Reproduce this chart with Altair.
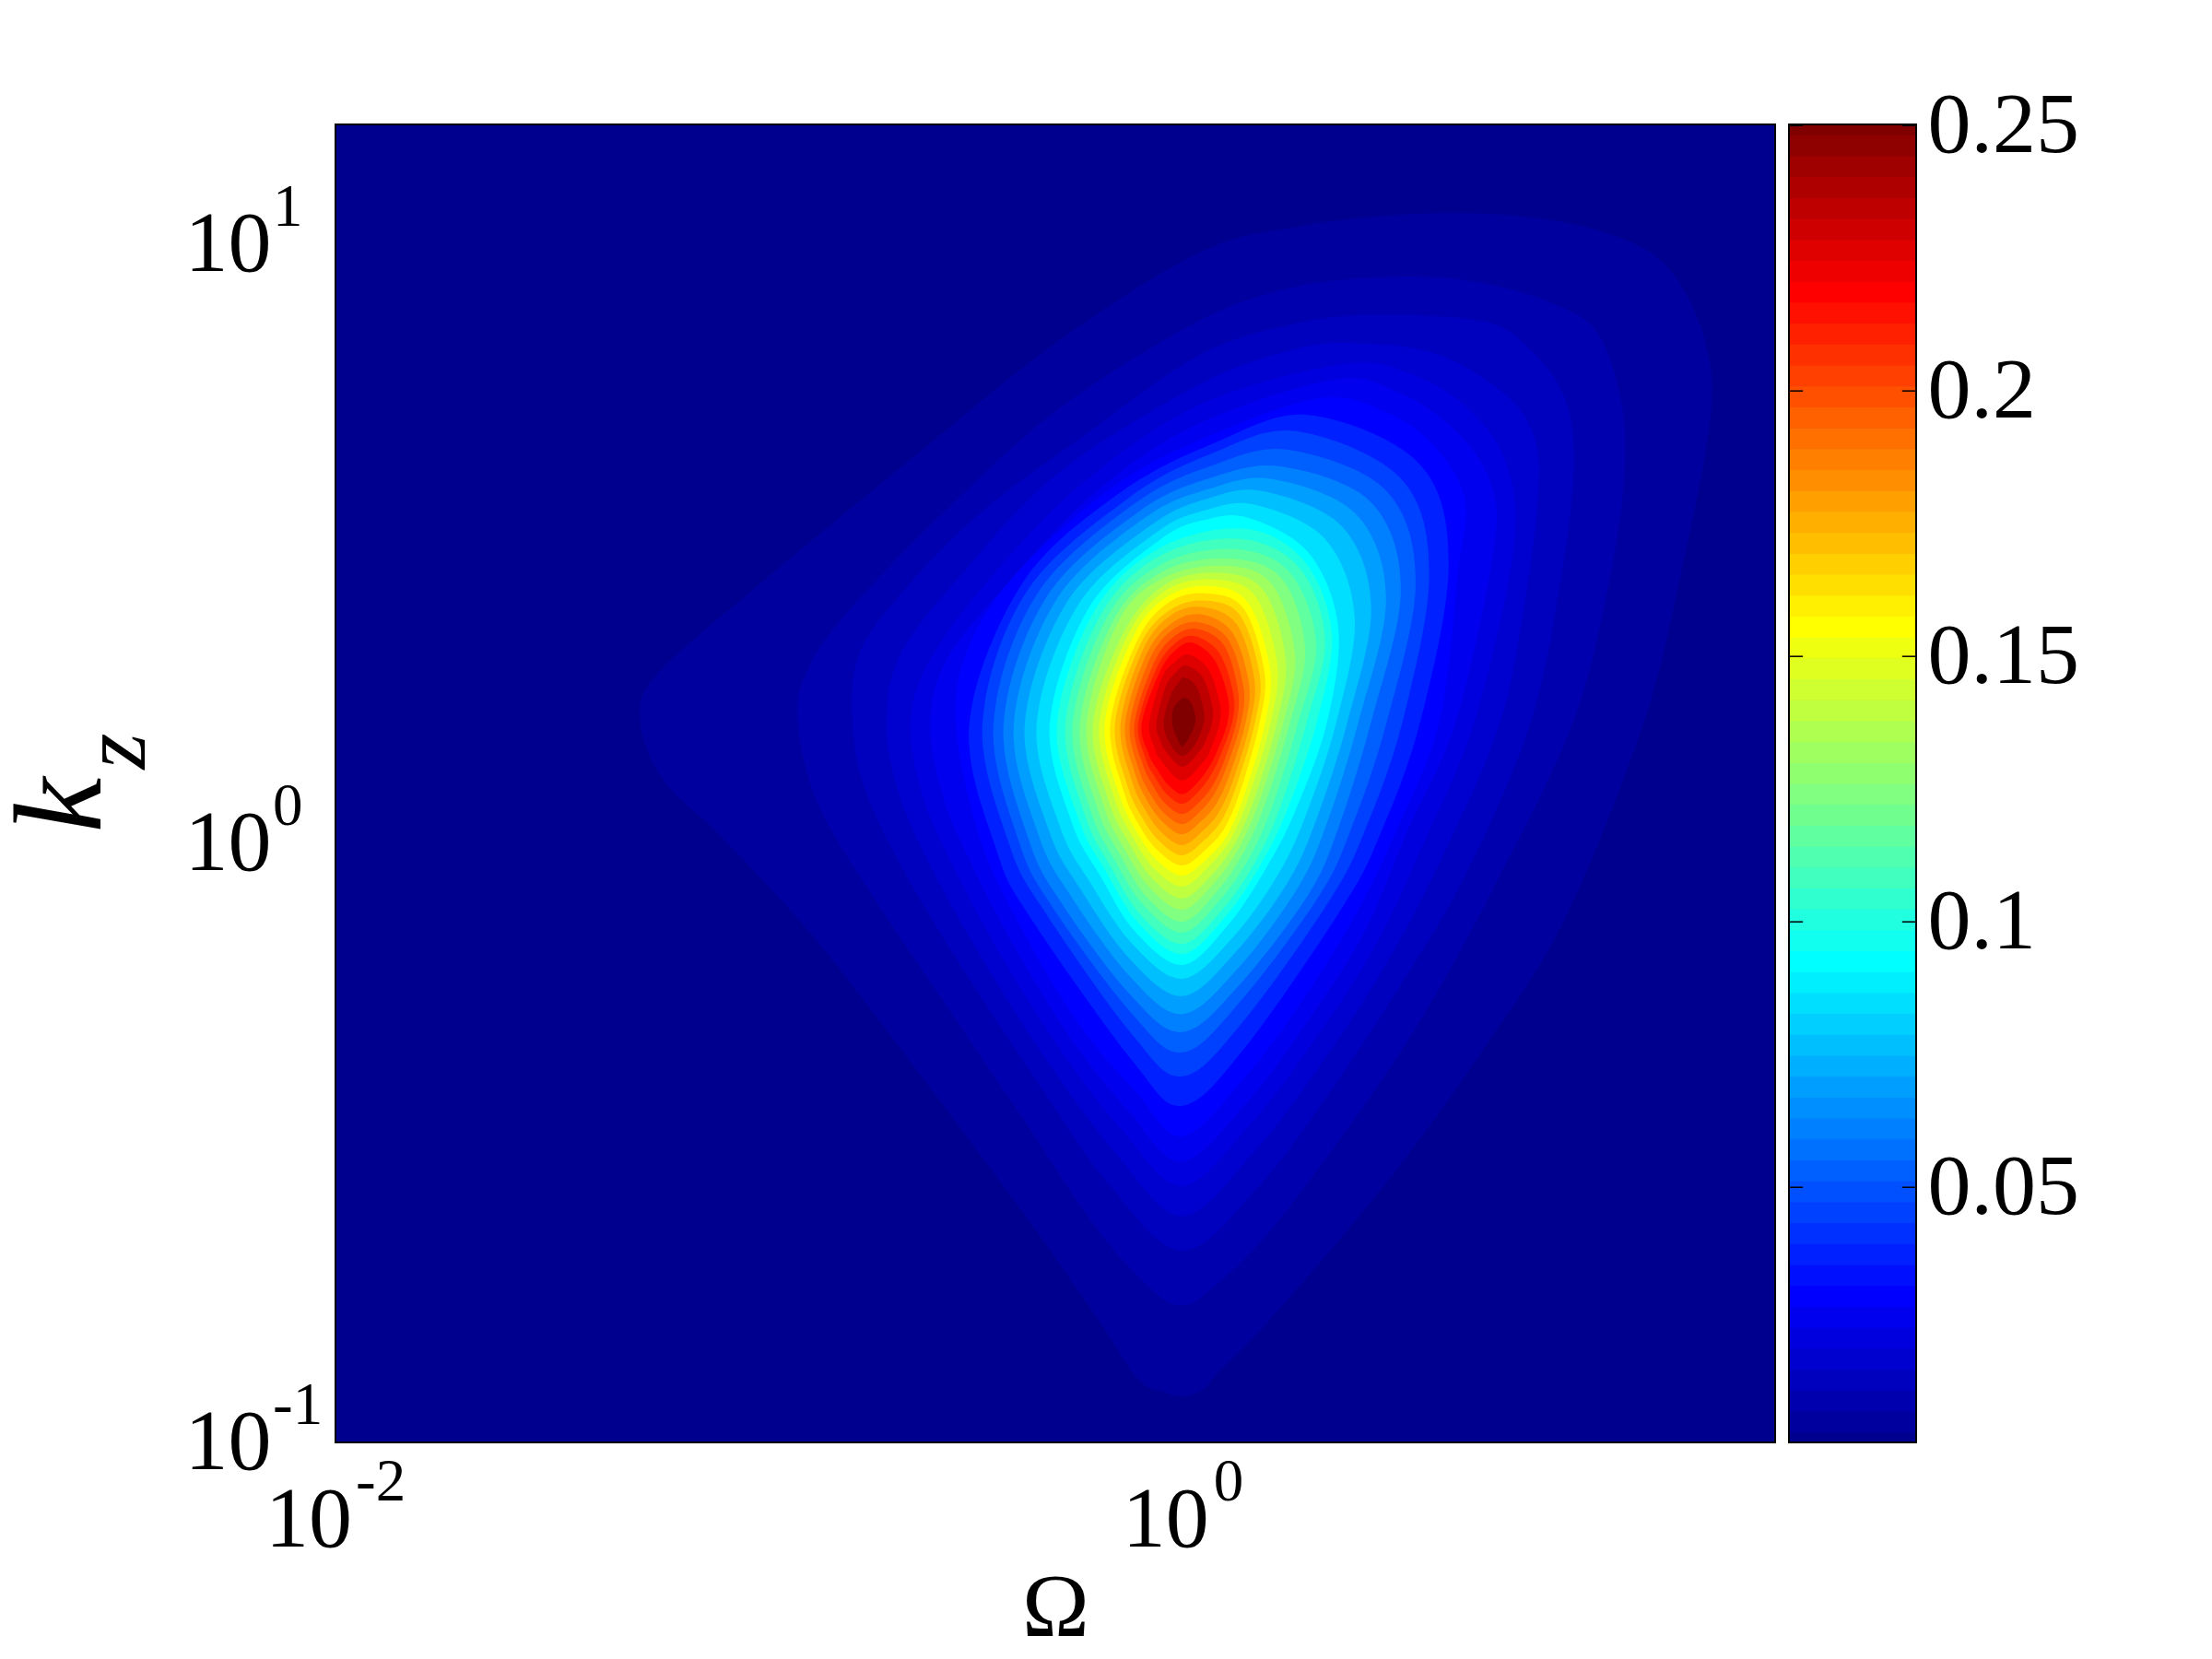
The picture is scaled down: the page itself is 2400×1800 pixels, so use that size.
import altair as alt
import pandas as pd

JET = ["#00008F","#00009F","#0000AF","#0000BF","#0000CF","#0000DF","#0000EF","#0000FF",
       "#0010FF","#0020FF","#0030FF","#0040FF","#0050FF","#0060FF","#0070FF","#0080FF",
       "#008FFF","#009FFF","#00AFFF","#00BFFF","#00CFFF","#00DFFF","#00EFFF","#00FFFF",
       "#10FFEF","#20FFDF","#30FFCF","#40FFBF","#50FFAF","#60FF9F","#70FF8F","#80FF80",
       "#8FFF70","#9FFF60","#AFFF50","#BFFF40","#CFFF30","#DFFF20","#EFFF10","#FFFF00",
       "#FFEF00","#FFDF00","#FFCF00","#FFBF00","#FFAF00","#FF9F00","#FF8F00","#FF8000",
       "#FF7000","#FF6000","#FF5000","#FF4000","#FF3000","#FF2000","#FF1000","#FF0000",
       "#EF0000","#DF0000","#CF0000","#BF0000","#AF0000","#9F0000","#8F0000","#800000"]

# contour band (1-based colour number in JET) -> outline, in decades: log10(Omega) and log10(k_z)
LOG_OMEGA = {
 2: [-1.280,-1.241,-1.001,-.647,-.290,.046,.268,.490,.712,.934,1.101,1.191,1.245,1.243,1.178,1.091,.906,.710,.479,.211,.087,.048,0,-.046,-.104,-.202,-.379,-.647,-.877,-1.095,-1.223],
 3: [-.908,-.886,-.788,-.557,-.290,.037,.268,.522,.712,.879,.980,1.034,1.045,1.012,.923,.727,.551,.372,.194,.061,0,-.067,-.202,-.379,-.557,-.734,-.860],
 4: [-.779,-.762,-.647,-.468,-.224,.037,.255,.446,.712,.823,.901,.925,.897,.823,.668,.505,.344,.181,0,-.174,-.335,-.501,-.651,-.747],
 5: [-.699,-.664,-.512,-.290,.037,.255,.401,.601,.768,.834,.840,.810,.751,.614,.475,.324,.170,0,-.155,-.309,-.464,-.596,-.670],
 6: [-.642,-.601,-.468,-.246,.037,.379,.546,.679,.768,.781,.690,.570,.451,.309,.161,0,-.139,-.285,-.433,-.553,-.616],
 7: [-.596,-.557,-.424,-.202,.037,.357,.512,.646,.729,.734,.646,.533,.429,.296,.157,0,-.126,-.266,-.405,-.516,-.568],
 8: [-.535,-.503,-.387,-.170,.037,.324,.490,.601,.668,.651,.607,.496,.407,.283,.150,0,-.113,-.246,-.379,-.477],
 10: [-.503,-.377,-.148,.298,.559,.629,.562,.377,0,-.355],
 12: [-.472,-.368,-.126,.268,.516,.583,.520,.348,0,-.327],
 14: [-.446,-.344,-.115,.250,.481,.551,.483,.322,0,-.307],
 16: [-.422,-.320,-.102,.235,.446,.516,.446,.298,0,-.285],
 18: [-.398,-.296,-.089,.211,.411,.481,.416,.272,0,-.263],
 20: [-.372,-.272,-.074,.189,.377,.446,.390,.248,0,-.242],
 22: [-.344,-.246,-.063,.172,.337,.407,.364,.222,0,-.218],
 24: [-.313,-.220,-.050,.157,.298,.368,.342,.194,0,-.194],
 26: [-.296,-.205,-.048,.148,.287,.353,.318,.183,0,-.181],
 28: [-.276,-.189,-.044,.139,.276,.337,.294,.172,0,-.170],
 30: [-.259,-.174,-.041,.128,.255,.316,.274,.159,0,-.159],
 32: [-.242,-.159,-.037,.120,.237,.290,.255,.146,0,-.146],
 34: [-.226,-.148,-.035,.109,.213,.266,.239,.135,0,-.135],
 36: [-.211,-.135,-.033,.098,.194,.244,.224,.126,0,-.124],
 38: [-.196,-.124,-.030,.085,.174,.224,.209,.115,0,-.115],
 40: [-.183,-.113,-.028,.074,.157,.207,.196,.107,0,-.104],
 42: [-.170,-.104,-.026,.065,.146,.194,.183,.102,0,-.100],
 44: [-.159,-.098,-.024,.059,.137,.183,.172,.096,0,-.094],
 46: [-.146,-.091,-.024,.052,.128,.170,.161,.089,0,-.087],
 48: [-.135,-.083,-.022,.046,.118,.157,.150,.083,0,-.081],
 50: [-.124,-.076,-.022,.039,.107,.144,.139,.076,0,-.076],
 52: [-.113,-.067,-.020,.033,.098,.131,.128,.072,0,-.070],
 54: [-.104,-.061,-.017,.028,.087,.120,.118,.065,0,-.065],
 56: [-.096,-.054,-.017,.024,.076,.107,.107,.061,0,-.059],
 58: [-.078,-.048,-.017,.015,.061,.087,.089,.052,0,-.050],
 60: [-.061,-.039,-.015,.009,.048,.070,.070,.041,0,-.039],
 62: [-.044,-.028,-.011,.004,.033,.050,.050,.030,0,-.028],
 64: [-.024,-.022,-.011,.004,.020,.030,.030,.020,0,-.015],
}
LOG_KZ = {
 2: [.200,.282,.431,.638,.840,.988,1.029,1.048,1.051,1.032,.988,.915,.806,.688,.452,.205,-.122,-.345,-.569,-.792,-.882,-.912,-.923,-.915,-.895,-.792,-.614,-.360,-.151,.015,.103],
 3: [.200,.288,.388,.557,.726,.871,.929,.946,.935,.900,.852,.746,.629,.452,.203,-.085,-.308,-.494,-.658,-.748,-.771,-.748,-.643,-.457,-.271,-.085,.065],
 4: [.200,.318,.431,.557,.685,.814,.866,.882,.871,.823,.746,.638,.454,.203,-.054,-.248,-.420,-.572,-.680,-.569,-.406,-.229,-.055,.085],
 5: [.200,.318,.457,.620,.765,.823,.835,.817,.746,.671,.577,.408,.203,-.023,-.209,-.372,-.515,-.622,-.520,-.374,-.203,-.037,.085],
 6: [.200,.300,.431,.595,.731,.800,.782,.723,.629,.485,.203,0,-.177,-.332,-.469,-.572,-.482,-.348,-.182,-.022,.085],
 7: [.200,.306,.425,.588,.700,.774,.752,.688,.600,.485,.203,.023,-.149,-.297,-.429,-.531,-.448,-.323,-.162,-.008,.085],
 8: [.200,.331,.454,.592,.672,.743,.717,.658,.571,.452,.203,.006,-.122,-.263,-.389,-.489,-.412,-.300,-.143,.006],
 10: [.200,.435,.585,.715,.634,.466,.203,-.108,-.438,-.128],
 12: [.200,.420,.577,.688,.609,.449,.203,-.095,-.389,-.112],
 14: [.200,.415,.566,.657,.589,.435,.203,-.089,-.349,-.106],
 16: [.200,.412,.554,.629,.569,.423,.203,-.085,-.315,-.100],
 18: [.200,.408,.543,.608,.549,.408,.203,-.075,-.285,-.088],
 20: [.200,.403,.531,.588,.529,.394,.203,-.066,-.255,-.075],
 22: [.200,.398,.518,.565,.508,.377,.203,-.057,-.226,-.065],
 24: [.200,.394,.508,.543,.485,.362,.203,-.046,-.203,-.054],
 26: [.200,.391,.495,.525,.472,.352,.203,-.038,-.185,-.046],
 28: [.200,.386,.483,.508,.460,.342,.203,-.031,-.168,-.038],
 30: [.200,.382,.469,.491,.451,.334,.203,-.023,-.149,-.029],
 32: [.200,.377,.457,.475,.440,.325,.203,-.014,-.131,-.020],
 34: [.200,.374,.446,.463,.431,.315,.203,-.006,-.111,-.011],
 36: [.200,.357,.435,.451,.420,.308,.203,.002,-.092,-.002],
 38: [.200,.354,.426,.440,.411,.300,.203,.008,-.072,.008],
 40: [.200,.349,.415,.429,.400,.292,.203,.015,-.054,.015],
 42: [.200,.342,.405,.417,.391,.286,.203,.028,-.037,.028],
 44: [.200,.334,.392,.405,.380,.280,.203,.042,-.020,.042],
 46: [.200,.326,.382,.394,.366,.275,.203,.055,-.003,.055],
 48: [.200,.318,.369,.382,.352,.269,.203,.069,.015,.069],
 50: [.200,.309,.357,.369,.342,.263,.203,.083,.032,.083],
 52: [.200,.301,.345,.358,.331,.257,.203,.097,.049,.097],
 54: [.200,.292,.334,.346,.318,.251,.203,.111,.066,.111],
 56: [.200,.285,.322,.335,.306,.246,.203,.125,.082,.123],
 58: [.200,.277,.303,.315,.291,.238,.203,.138,.105,.138],
 60: [.200,.262,.285,.297,.277,.231,.200,.154,.128,.154],
 62: [.200,.246,.266,.277,.262,.223,.200,.165,.146,.165],
 64: [.200,.223,.235,.243,.235,.215,.200,.182,.162,.180],
}
# extra outline points of the inner contours, flank below the rightmost / leftmost point:
# (log10 Omega right, log10 kz right, log10 Omega left, log10 kz left)
LOWER_POINTS = {
 10: (.466,.013,-.438,-.013), 12: (.431,.021,-.408,-.003), 14: (.399,.025,-.385,.001),
 16: (.369,.027,-.362,.005), 18: (.341,.033,-.339,.013), 20: (.316,.039,-.315,.021),
 22: (.290,.044,-.289,.028), 24: (.265,.051,-.261,.035), 26: (.248,.056,-.245,.040),
 28: (.231,.060,-.229,.045), 30: (.214,.065,-.215,.051), 32: (.198,.071,-.200,.057),
 34: (.185,.076,-.186,.063), 36: (.173,.080,-.173,.069), 38: (.160,.084,-.160,.075),
 40: (.150,.088,-.148,.080), 42: (.141,.096,-.139,.088), 44: (.132,.105,-.130,.097),
 46: (.124,.113,-.120,.106), 48: (.115,.121,-.111,.115), 50: (.106,.130,-.103,.124),
 52: (.099,.138,-.094,.133), 54: (.090,.147,-.087,.142), 56: (.083,.155,-.080,.150),
 58: (.070,.163,-.066,.160), 60: (.055,.172,-.051,.170),
}
# flank just beside the bottom point, same order
BOTTOM_POINTS = {
 10: (.147,-.342,-.117,-.364), 12: (.143,-.298,-.121,-.317), 14: (.138,-.263,-.123,-.281),
 16: (.134,-.237,-.125,-.251), 18: (.131,-.209,-.124,-.222), 20: (.124,-.183,-.123,-.194),
 22: (.118,-.158,-.118,-.168), 24: (.107,-.137,-.113,-.146), 26: (.101,-.123,-.105,-.132),
 28: (.095,-.110,-.099,-.119), 30: (.087,-.096,-.092,-.103), 32: (.080,-.082,-.085,-.089),
 34: (.074,-.067,-.078,-.073), 36: (.069,-.053,-.072,-.058), 38: (.063,-.038,-.067,-.042),
 40: (.059,-.025,-.060,-.028), 42: (.056,-.010,-.058,-.012), 44: (.053,.006,-.055,.004),
 46: (.049,.021,-.050,.019), 48: (.046,.038,-.047,.036), 50: (.042,.053,-.044,.051),
 52: (.040,.069,-.041,.067), 54: (.036,.085,-.038,.083), 56: (.034,.100,-.034,.098),
}
# upper-left flank before the top point: (log10 Omega, log10 kz)
UPPER_POINTS = {
 10: (.075,.668), 12: (.071,.651), 14: (.068,.630), 16: (.067,.610),
 18: (.061,.591), 20: (.058,.575), 22: (.055,.556), 24: (.054,.540),
}

X_TICKS = [0.01, 1]
X_EXPONENTS = ["-2", "0"]
Y_TICKS = [0.1, 1, 10]
Y_EXPONENTS = ["-1", "0", "1"]
CB_TICKS = [0.05, 0.1, 0.15, 0.2, 0.25]
OMEGA_RANGE = [0.01, 25.12]
KZ_RANGE = [0.1, 15.85]
Z_RANGE = [0.00195, 0.2502]

FONT = "Liberation Serif"
W, H = 1562, 1430


def outline(lev):
    xs, ys = LOG_OMEGA[lev], LOG_KZ[lev]
    if lev not in LOWER_POINTS:
        return list(xs), list(ys)
    up = UPPER_POINTS.get(lev)
    xr, yr, xl, yl = LOWER_POINTS[lev]
    bot = BOTTOM_POINTS.get(lev)
    ox, oy = list(xs[:3]), list(ys[:3])
    if up:
        ox.append(up[0]); oy.append(up[1])
    ox += list(xs[3:7]) + [xr, xs[7]]
    oy += list(ys[3:7]) + [yr, ys[7]]
    if bot:
        ox += [bot[0], xs[8], bot[2]]
        oy += [bot[1], ys[8], bot[3]]
    else:
        ox.append(xs[8]); oy.append(ys[8])
    ox += [xs[9], xl]
    oy += [ys[9], yl]
    return ox, oy


rows = []
for lev in LOG_OMEGA:
    ox, oy = outline(lev)
    for i, (a, b) in enumerate(zip(ox, oy)):
        rows.append({"level": lev, "i": i, "omega": 10 ** a, "kz": 10 ** b})
df = pd.DataFrame(rows)
levels = list(LOG_OMEGA)
colours = [JET[k - 1] for k in levels]

x_scale = alt.Scale(type="log", domain=OMEGA_RANGE, nice=False)
y_scale = alt.Scale(type="log", domain=KZ_RANGE, nice=False)

main = alt.Chart(df).mark_line(interpolate="cardinal-closed", filled=True, strokeWidth=0).encode(
    x=alt.X("omega:Q", scale=x_scale, axis=alt.Axis(
        values=X_TICKS, tickSize=0, domain=False, grid=False, labels=False, title="Ω",
        titleFont=FONT, titleFontSize=98, titleFontWeight="normal", titleColor="black",
        titleBaseline="alphabetic", titleY=209)),
    y=alt.Y("kz:Q", scale=y_scale, axis=alt.Axis(
        values=Y_TICKS, tickSize=0, domain=False, grid=False, title="k",
        labelExpr="'10'", labelFont=FONT, labelFontSize=94,
        labelColor="black", labelPadding=70, labelFlush=False, labelOverlap=False, labelBaseline="middle",
        titleFont=FONT, titleFontSize=135, titleFontStyle="italic", titleFontWeight="normal", titleColor="black",
        titleX=-256, titleY=738, titleAnchor="middle", titleAlign="center", titleBaseline="alphabetic", titleAngle=270)),
    fill=alt.Fill("level:O", scale=alt.Scale(domain=levels, range=colours), legend=None),
    order=alt.Order("i:Q"),
)
sub_z = alt.Chart(pd.DataFrame({"t": ["z"]})).mark_text(
    font=FONT, fontSize=100, fontStyle="italic", angle=270, baseline="alphabetic", align="center", color="black"
).encode(text="t:N", x=alt.value(-207), y=alt.value(680))

y_sup = alt.Chart(pd.DataFrame({"kz": Y_TICKS, "t": Y_EXPONENTS})).mark_text(
    font=FONT, fontSize=65, align="left", baseline="alphabetic", dy=-20, color="black"
).encode(y=alt.Y("kz:Q", scale=y_scale, axis=None), x=alt.value(-68), text="t:N")

x_layers = []
for tick, exp, dx_ten, dx_exp in zip(X_TICKS, X_EXPONENTS, [18, 29], [22, 34]):
    row = pd.DataFrame({"omega": [tick], "ten": ["10"], "exp": [exp]})
    x_layers.append(alt.Chart(row).mark_text(font=FONT, fontSize=94, align="right", baseline="alphabetic",
                                             dx=dx_ten, color="black").encode(
        x=alt.X("omega:Q", scale=x_scale, axis=None), y=alt.value(1543), text="ten:N"))
    x_layers.append(alt.Chart(row).mark_text(font=FONT, fontSize=65, align="left", baseline="alphabetic",
                                             dx=dx_exp, color="black").encode(
        x=alt.X("omega:Q", scale=x_scale, axis=None), y=alt.value(1493), text="exp:N"))

left = alt.layer(main, sub_z, y_sup, *x_layers).resolve_axis(x="independent", y="independent").properties(width=W, height=H)

step = (Z_RANGE[1] - Z_RANGE[0]) / 63
bands = []
for k in range(64):
    bands.append({"lo": max(Z_RANGE[0], Z_RANGE[0] + (k - 0.5) * step),
                  "hi": min(Z_RANGE[1], Z_RANGE[0] + (k + 0.5) * step),
                  "c": f"{k:02d}"})
cb_df = pd.DataFrame(bands)
z_scale = alt.Scale(domain=Z_RANGE, nice=False)
band_scale = alt.Scale(domain=list(cb_df.c), range=JET)
cb_rect = alt.Chart(cb_df).mark_rect(strokeWidth=1).encode(
    y=alt.Y("lo:Q", scale=z_scale, axis=alt.Axis(
        orient="right", values=CB_TICKS, tickSize=0, domain=False, grid=False, title=None,
        labelExpr="format(datum.value, '.2~f')", labelFont=FONT, labelFontSize=94, labelColor="black",
        labelPadding=12, labelFlush=False, labelOverlap=False, labelBaseline="middle")),
    y2="hi:Q",
    fill=alt.Fill("c:N", scale=band_scale, legend=None),
    stroke=alt.Stroke("c:N", scale=band_scale, legend=None),
)
tick_df = pd.DataFrame([{"z": z, "a": a, "b": b} for z in CB_TICKS for a, b in [(0, 0.11), (0.89, 1)]])
cb_ticks = alt.Chart(tick_df).mark_rule(color="black", strokeWidth=1.5).encode(
    y=alt.Y("z:Q", scale=z_scale),
    x=alt.X("a:Q", scale=alt.Scale(domain=[0, 1]), axis=None),
    x2="b:Q",
)
frame = alt.Chart(pd.DataFrame({"lo": [Z_RANGE[0]], "hi": [Z_RANGE[1]], "a": [0], "b": [1]})).mark_rect(
    fillOpacity=0, stroke="black", strokeWidth=2
).encode(y=alt.Y("lo:Q", scale=z_scale), y2="hi:Q", x=alt.X("a:Q", scale=alt.Scale(domain=[0, 1]), axis=None), x2="b:Q")
right = alt.layer(cb_rect, cb_ticks, frame).properties(width=138, height=H)

chart = alt.hconcat(left, right, spacing=12).resolve_scale(
    fill="independent", stroke="independent", y="independent", x="independent"
).properties(
    padding={"left": -9, "top": 80, "right": 0, "bottom": 0}
).configure_view(stroke="black", strokeWidth=2, fill="#00008F")

chart.save("out.html", embed_options={"renderer": "svg", "actions": False})
